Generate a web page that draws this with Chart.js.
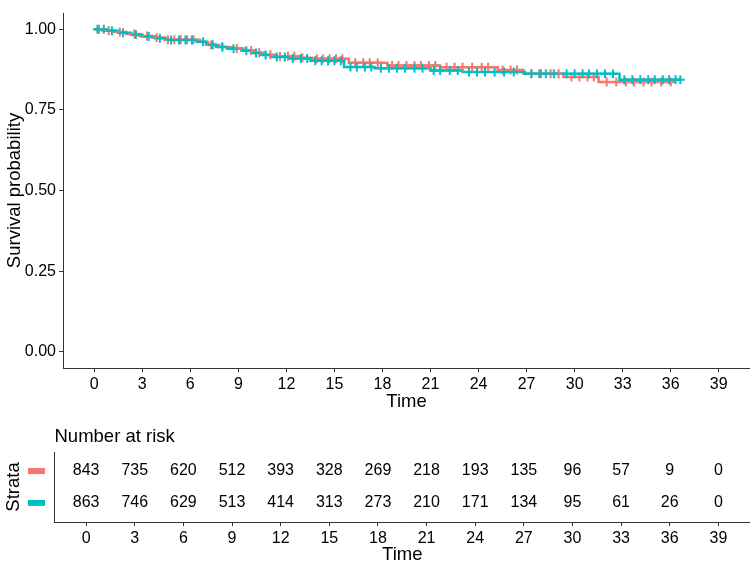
<!DOCTYPE html>
<html>
<head>
<meta charset="utf-8">
<script src="https://cdn.jsdelivr.net/npm/chart.js@4.4.1/dist/chart.umd.min.js"></script>
<style>
  html, body { margin: 0; padding: 0; background: #fff; }
  #wrap { position: relative; width: 750px; height: 566px; }
  #km { position: absolute; left: 0; top: 0; }
  #risk { position: absolute; left: 0; top: 420px; }
</style>
</head>
<body>
<div id="wrap">
  <canvas id="km" width="750" height="420"></canvas>
  <canvas id="risk" width="750" height="146"></canvas>
</div>
<script>
const FONT = "'Liberation Sans', Arial, sans-serif";
const redColor = "#F8766D";
const tealColor = "#00BFC4";

// stratum 1 (red): event times and survival after each step
const redTimes = [0, 0.5, 1.2, 2.0, 2.8, 3.6, 4.4, 6.6, 7.1, 7.8, 8.6, 9.4, 10.0, 10.6, 11.3, 12.8, 13.6, 15.9, 18.3, 21.6, 25.2, 26.8, 29.3, 31.5];
const redSurv  = [1.0, 0.996, 0.991, 0.985, 0.979, 0.974, 0.967, 0.960, 0.951, 0.945, 0.940, 0.934, 0.927, 0.921, 0.916, 0.911, 0.908, 0.896, 0.887, 0.882, 0.873, 0.862, 0.852, 0.836];
const redEnd = 36.2;
const redCensor = [0.3, 0.9, 1.6, 2.5, 3.3, 3.9, 4.6, 5.0, 5.4, 5.8, 6.2, 7.3, 8.0, 8.9, 9.8, 10.3, 11.0, 11.6, 12.1, 12.5, 13.0, 13.9, 14.3, 14.7, 15.1, 15.5, 16.3, 16.8, 17.2, 17.7, 18.6, 19.0, 19.5, 20.0, 20.4, 20.9, 21.3, 22.0, 22.5, 23.0, 23.6, 24.2, 24.6, 25.5, 26.0, 26.4, 27.3, 27.9, 28.5, 29.0, 29.8, 30.3, 30.8, 31.2, 32.0, 32.6, 33.2, 33.7, 34.3, 34.8, 35.4, 36.0];

// stratum 2 (teal)
const tealTimes = [0, 0.7, 1.5, 2.3, 3.0, 3.8, 4.6, 6.4, 7.0, 7.6, 8.3, 9.2, 9.8, 10.4, 11.0, 12.2, 13.5, 15.6, 17.5, 21.0, 23.0, 26.9, 32.8];
const tealSurv  = [1.0, 0.995, 0.989, 0.983, 0.977, 0.972, 0.966, 0.961, 0.952, 0.945, 0.939, 0.933, 0.926, 0.920, 0.914, 0.909, 0.902, 0.883, 0.879, 0.872, 0.867, 0.862, 0.843];
const tealEnd = 36.6;
const tealCensor = [0.2, 0.6, 1.1, 1.8, 2.6, 3.4, 4.1, 4.8, 5.3, 5.7, 6.1, 6.8, 7.4, 8.0, 8.7, 9.5, 10.1, 10.7, 11.4, 11.9, 12.4, 12.9, 13.3, 13.8, 14.2, 14.6, 15.0, 15.4, 16.0, 16.4, 16.9, 17.3, 17.9, 18.4, 18.9, 19.4, 20.0, 20.5, 21.2, 21.6, 22.2, 22.7, 23.4, 23.9, 24.4, 25.0, 25.6, 26.2, 27.3, 27.8, 28.2, 28.7, 29.5, 30.0, 30.5, 30.9, 31.4, 31.9, 32.4, 33.1, 33.6, 34.1, 34.6, 35.0, 35.5, 35.9, 36.3, 36.6];

const xTicks = [0, 3, 6, 9, 12, 15, 18, 21, 24, 27, 30, 33, 36, 39];
const yTicks = [0, 0.25, 0.5, 0.75, 1];

// number at risk table
const riskTimes = [0, 3, 6, 9, 12, 15, 18, 21, 24, 27, 30, 33, 36, 39];
const riskRed  = [843, 735, 620, 512, 393, 328, 269, 218, 193, 135, 96, 57, 9, 0];
const riskTeal = [863, 746, 629, 513, 414, 313, 273, 210, 171, 134, 95, 61, 26, 0];

Chart.defaults.font.family = FONT;
Chart.defaults.color = "#000";

function stepPoints(times, surv, end) {
  const pts = times.map((t, i) => ({ x: t, y: surv[i] }));
  pts.push({ x: end, y: surv[surv.length - 1] });
  return pts;
}
function survAt(times, surv, t) {
  let s = surv[0];
  for (let i = 0; i < times.length; i++) if (times[i] <= t) s = surv[i];
  return s;
}
function censorPoints(cens, times, surv) {
  return cens.map(t => ({ x: t, y: survAt(times, surv, t) }));
}

const axisColor = "#333";
const xScaleBase = (height) => ({
  type: "linear",
  min: -1.95,
  max: 40.95,
  afterBuildTicks: s => { s.ticks = xTicks.map(v => ({ value: v })); },
  afterFit: s => { s.height = height; s.paddingLeft = 0; s.paddingRight = 0; },
  grid: { display: true, drawOnChartArea: false, drawTicks: true, tickLength: 4, color: axisColor, lineWidth: 1 },
  border: { display: true, color: axisColor, width: 1 },
  ticks: { font: { size: 16 }, color: "#000", padding: 3, maxRotation: 0, autoSkip: false },
});

// survival curves
new Chart(document.getElementById("km"), {
  type: "scatter",
  data: {
    datasets: [
      { data: censorPoints(tealCensor, tealTimes, tealSurv), pointStyle: "cross", pointRadius: 4.5, borderColor: tealColor, backgroundColor: tealColor, pointBorderWidth: 2, showLine: false },
      { data: censorPoints(redCensor, redTimes, redSurv), pointStyle: "cross", pointRadius: 4.5, borderColor: redColor, backgroundColor: redColor, pointBorderWidth: 2, showLine: false },
      { data: stepPoints(tealTimes, tealSurv, tealEnd), showLine: true, stepped: true, borderColor: tealColor, borderWidth: 2.5, pointRadius: 0 },
      { data: stepPoints(redTimes, redSurv, redEnd), showLine: true, stepped: true, borderColor: redColor, borderWidth: 2.5, pointRadius: 0 },
    ]
  },
  options: {
    responsive: false,
    animation: false,
    events: [],
    layout: { autoPadding: false, padding: { top: 13, right: 0, left: 0, bottom: 0 } },
    plugins: { legend: { display: false }, tooltip: { enabled: false } },
    scales: {
      x: Object.assign(xScaleBase(52), {
        title: { display: true, text: "Time", font: { size: 18.5 }, color: "#000", padding: { top: 0, bottom: 7 } },
      }),
      y: {
        type: "linear",
        min: -0.05,
        max: 1.05,
        afterBuildTicks: s => { s.ticks = yTicks.map(v => ({ value: v })); },
        afterFit: s => { s.width = 63; },
        grid: { display: true, drawOnChartArea: false, drawTicks: true, tickLength: 4, color: axisColor, lineWidth: 1 },
        border: { display: true, color: axisColor, width: 1 },
        ticks: { font: { size: 16 }, color: "#000", padding: 3, callback: v => v.toFixed(2) },
        title: { display: true, text: "Survival probability", font: { size: 18.5 }, color: "#000", padding: { top: 4, bottom: 0 } },
      }
    }
  }
});

// risk table: numbers, strata keys and heading
const riskText = {
  id: "riskText",
  afterDraw(chart) {
    const { ctx, chartArea, scales: { x, y } } = chart;
    ctx.save();
    ctx.textBaseline = "middle";
    [riskRed, riskTeal].forEach((row, r) => {
      const py = y.getPixelForValue(2 - r);
      ctx.fillStyle = "#000";
      ctx.textAlign = "center";
      ctx.font = "16px " + FONT;
      row.forEach((n, i) => ctx.fillText(String(n), x.getPixelForValue(riskTimes[i]), py));
      ctx.fillStyle = r === 0 ? redColor : tealColor;
      ctx.fillRect(28, py - 3, 17, 6);
    });
    ctx.fillStyle = "#000";
    ctx.textAlign = "left";
    ctx.font = "18.5px " + FONT;
    ctx.fillText("Number at risk", chartArea.left, 17);
    ctx.restore();
  }
};

new Chart(document.getElementById("risk"), {
  type: "scatter",
  data: { datasets: [] },
  options: {
    responsive: false,
    animation: false,
    events: [],
    layout: { autoPadding: false, padding: { top: 32, right: 0, left: 0, bottom: 0 } },
    plugins: { legend: { display: false }, tooltip: { enabled: false } },
    scales: {
      x: Object.assign(xScaleBase(44), {
        title: { display: true, text: "Time", font: { size: 18.5 }, color: "#000", padding: { top: 0, bottom: 0 } },
      }),
      y: {
        type: "linear",
        min: 0.4,
        max: 2.6,
        afterFit: s => { s.width = 54.5; },
        grid: { display: false },
        border: { display: true, color: axisColor, width: 1 },
        ticks: { display: false },
        title: { display: true, text: "Strata", font: { size: 18.5 }, color: "#000", padding: { top: 3, bottom: 0 } },
      }
    }
  },
  plugins: [riskText]
});
</script>
</body>
</html>
